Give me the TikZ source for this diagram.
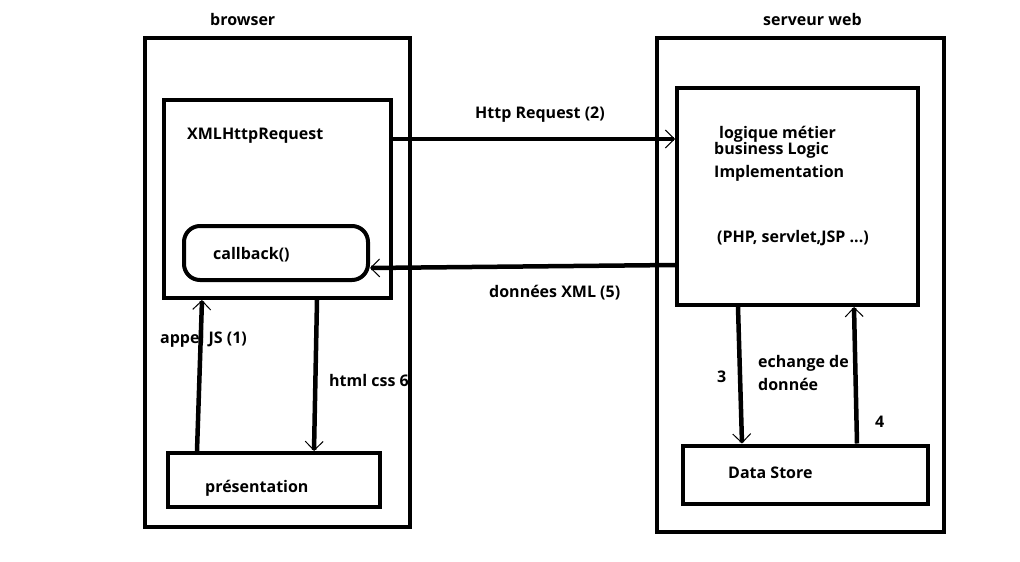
\documentclass[tikz,border=0pt]{standalone}
\usepackage{fontspec}
\setmainfont{Open Sans}
\usetikzlibrary{arrows.meta}
\begin{document}
\begin{tikzpicture}[x=1pt,y=-1pt,
  box/.style={draw, line width=4pt, inner sep=0pt},
  lbl/.style={anchor=base west, inner sep=0pt, font=\bfseries\fontsize{16}{18}\selectfont},
  flow/.style={line width=4.5pt, -{Straight Barb[length=9pt,width=18pt,line width=1pt]}}]
  \useasboundingbox (0,0) rectangle (1020,562);
  \fill[white] (0,0) rectangle (1020,562);

  % browser side
  \node[box, minimum width=265pt, minimum height=489pt] (browser) at (277.5,282.5) {};
  \node[box, minimum width=227pt, minimum height=198pt] (xhr) at (277.5,199) {};
  \node[box, rounded corners=16pt, minimum width=184pt, minimum height=54pt] (cb) at (276,253) {};
  \node[box, minimum width=212pt, minimum height=54pt] (pres) at (274,480) {};

  % server side
  \node[box, minimum width=287pt, minimum height=494pt] (server) at (800.5,285) {};
  \node[box, minimum width=241pt, minimum height=217pt] (logic) at (797.5,196.5) {};
  \node[box, minimum width=245pt, minimum height=58pt] (store) at (805.5,474.5) {};

  % titles and texts
  \node[lbl] (tb) at (210,25) {browser};
  \node[lbl] (ts) at (763,25) {serveur web};
  \node[lbl] (txhr) at (187,139) {XMLHttpRequest};
  \node[lbl] (tcb) at (213,259) {callback()};
  \node[lbl] (tpres) at (205,492) {présentation};
  \node[lbl] (tl1) at (719,138) {logique métier};
  \node[lbl] (tl2) at (714,154) {business Logic};
  \node[lbl] (tl3) at (714,177) {Implementation};
  \node[lbl] (tl4) at (717,242) {(PHP, servlet,JSP ...)};
  \node[lbl] (tds) at (728,478) {Data Store};

  % connectors and their labels
  \draw[flow] ([yshift=60pt]xhr.east) -- ([yshift=57.5pt]logic.west);
  \node[lbl] (th) at (475,118) {Http Request (2)};
  \draw[flow] ([yshift=-68.5pt]logic.west) -- ([yshift=-15pt]cb.east);
  \node[lbl] (tx) at (489,297) {données XML (5)};
  \draw[flow] ([xshift=-77pt]pres.north) -- ([xshift=-75.5pt]xhr.south);
  \node[lbl] (ta) at (160,343) {appel JS (1)};
  \draw[flow] ([xshift=39.5pt]xhr.south) -- ([xshift=40pt]pres.north);
  \node[lbl] (thc) at (329,386) {html css 6};
  \draw[flow] ([xshift=-59.5pt]logic.south) -- ([xshift=-63.5pt]store.north);
  \node[lbl] (t3) at (717,382) {3};
  \draw[flow] ([xshift=51.5pt]store.north) -- ([xshift=56.5pt]logic.south);
  \node[lbl] (t4) at (875,427) {4};
  \node[lbl] (te1) at (758,367) {echange de};
  \node[lbl] (te2) at (758,390) {donnée};
\end{tikzpicture}
\end{document}
